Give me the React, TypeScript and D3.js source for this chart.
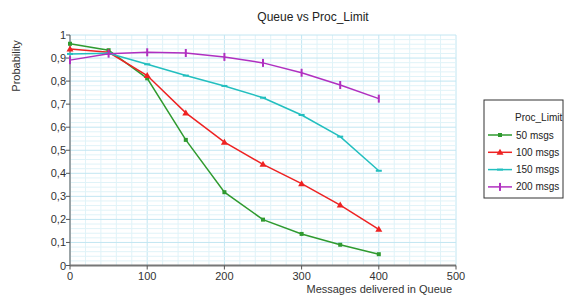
import React from "react";
import * as d3 from "d3";

const xValues = [0, 50, 100, 150, 200, 250, 300, 350, 400];
const seriesNames = ["50 msgs", "100 msgs", "150 msgs", "200 msgs"];
const s50 = [0.962, 0.934, 0.812, 0.545, 0.318, 0.199, 0.137, 0.09, 0.049];
const s100 = [0.939, 0.925, 0.824, 0.662, 0.535, 0.439, 0.355, 0.262, 0.157];
const s150 = [0.918, 0.921, 0.873, 0.824, 0.779, 0.728, 0.653, 0.559, 0.411];
const s200 = [0.891, 0.919, 0.925, 0.922, 0.905, 0.879, 0.836, 0.783, 0.724];
const xTicks = [0, 100, 200, 300, 400, 500];
const yTicks = [0, 0.1, 0.2, 0.3, 0.4, 0.5, 0.6, 0.7, 0.8, 0.9, 1];
const colors = ["#2f9a2f", "#ee2222", "#22bfbf", "#b030c0"];
const markers = ["square", "triangle", "dash", "vbar"];

function Marker({ type, x, y, color }: { type: string; x: number; y: number; color: string }) {
  if (type === "square") return <rect x={x - 2} y={y - 2} width={4} height={4} fill={color} />;
  if (type === "triangle")
    return <path d={`M${x},${y - 3.5}L${x + 3.5},${y + 2.5}L${x - 3.5},${y + 2.5}Z`} fill={color} />;
  if (type === "dash") return <rect x={x - 3} y={y - 1} width={6} height={2} fill={color} />;
  return <rect x={x - 1} y={y - 4} width={2} height={8} fill={color} />;
}

export default function App() {
  const W = 564, H = 298;
  const x = d3.scaleLinear().domain([0, 500]).range([70, 456]);
  const y = d3.scaleLinear().domain([0, 1]).range([265.5, 35]);
  const data = [s50, s100, s150, s200];
  const line = d3.line<number>().x((_, i) => x(xValues[i])).y((d) => y(d));
  const minorX = d3.range(0, 501, 20);
  const minorY = d3.range(0, 51).map((i) => i / 50);
  const font = "Arial, 'Liberation Sans', sans-serif";
  return (
    <svg width={W} height={H} style={{ position: "absolute", left: 0, top: 0 }} fontFamily={font}>
      <rect width={W} height={H} fill="#fff" />
      {minorX.map((v) => (
        <line key={"gx" + v} x1={x(v)} x2={x(v)} y1={y(0)} y2={y(1)}
          stroke={v % 100 === 0 ? "#c2e6f2" : "#e0f3f8"} strokeWidth={1} />
      ))}
      {minorY.map((v, i) => (
        <line key={"gy" + i} x1={x(0)} x2={x(500)} y1={y(v)} y2={y(v)}
          stroke={i % 5 === 0 ? "#c2e6f2" : "#e0f3f8"} strokeWidth={1} />
      ))}
      <line x1={x(0)} x2={x(0)} y1={y(0)} y2={y(1)} stroke="#555" strokeWidth={1} />
      <line x1={x(0)} x2={x(500)} y1={y(0)} y2={y(0)} stroke="#777" strokeWidth={2} />
      {yTicks.map((v) => (
        <g key={"yt" + v}>
          <line x1={x(0) - 4} x2={x(0)} y1={y(v)} y2={y(v)} stroke="#555" />
          <text x={x(0) - 4} y={y(v) + 4} fontSize={11} textAnchor="end" fill="#333">
            {v === 0 || v === 1 ? String(v) : v.toFixed(1).replace(".", ",")}
          </text>
        </g>
      ))}
      {xTicks.map((v) => (
        <g key={"xt" + v}>
          <line x1={x(v)} x2={x(v)} y1={y(0)} y2={y(0) + 4} stroke="#555" />
          <text x={x(v)} y={280} fontSize={11} textAnchor="middle" fill="#333">{v}</text>
        </g>
      ))}
      {data.map((s, si) => (
        <g key={"s" + si}>
          <path d={line(s) || ""} fill="none" stroke={colors[si]} strokeWidth={1.5} />
          {s.map((v, i) => (
            <Marker key={i} type={markers[si]} x={x(xValues[i])} y={y(v)} color={colors[si]} />
          ))}
        </g>
      ))}
      <text x={313} y={21} fontSize={12} textAnchor="middle" fill="#222">Queue vs Proc_Limit</text>
      <text transform="translate(20,66) rotate(-90)" fontSize={11} textAnchor="middle" fill="#333">Probability</text>
      <text x={452} y={293} fontSize={11} textAnchor="end" fill="#333">Messages delivered in Queue</text>
      <rect x={484} y={100} width={79} height={98} fill="#fff" stroke="#333" strokeWidth={1} />
      <text x={515} y={121} fontSize={10} fill="#222">Proc_Limit</text>
      {seriesNames.map((n, i) => {
        const ly = 135 + i * 17.3;
        return (
          <g key={"l" + i}>
            <line x1={488} x2={512} y1={ly} y2={ly} stroke={colors[i]} strokeWidth={1.5} />
            <Marker type={markers[i]} x={500} y={ly} color={colors[i]} />
            <text x={516} y={ly + 3.5} fontSize={10} fill="#222">{n}</text>
          </g>
        );
      })}
    </svg>
  );
}
